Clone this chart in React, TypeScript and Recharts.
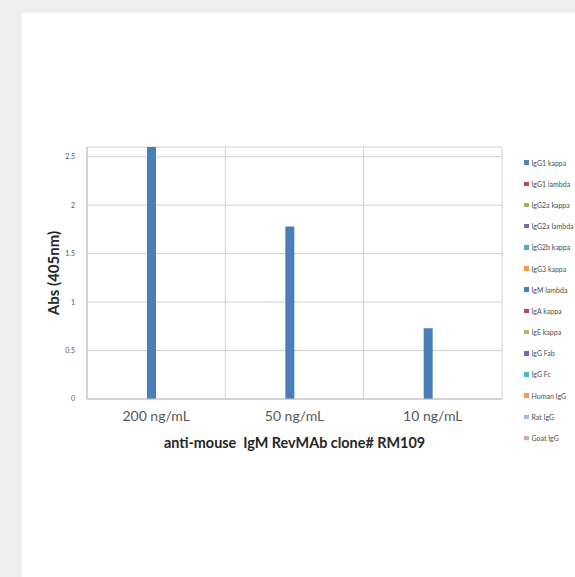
import React from "react";
import { Bar, BarChart, CartesianGrid, Label, XAxis, YAxis } from "recharts";

const categories = ["200 ng/mL", "50 ng/mL", "10 ng/mL"];

const seriesNames = [
  "IgG1 kappa",
  "IgG1 lambda",
  "IgG2a kappa",
  "IgG2a lambda",
  "IgG2b kappa",
  "IgG3 kappa",
  "IgM lambda",
  "IgA kappa",
  "IgE kappa",
  "IgG Fab",
  "IgG Fc",
  "Human IgG",
  "Rat IgG",
  "Goat IgG",
];

const seriesColors = [
  "#4f81bd",
  "#c0504d",
  "#9bbb59",
  "#8064a2",
  "#4bacc6",
  "#f79646",
  "#4a7ebb",
  "#be4b48",
  "#a5c165",
  "#7f67b0",
  "#4bb7c9",
  "#f79646",
  "#a5b9d6",
  "#dba3a2",
];

// only the IgM lambda series reads above zero
const igmLambda = [2.6, 1.78, 0.73];
const noSignal = [0, 0, 0];

const yTicks = [0, 0.5, 1, 1.5, 2, 2.5];

const data = categories.map((c, i) => {
  const row: Record<string, string | number> = { name: c };
  seriesNames.forEach((s) => {
    row[s] = s === "IgM lambda" ? igmLambda[i] : noSignal[i];
  });
  return row;
});

const font = "Lato, 'Open Sans', sans-serif";

export default function App() {
  return (
    <div
      style={{
        position: "absolute",
        left: 0,
        top: 0,
        width: 575,
        height: 577,
        background: "#eeeeee",
        overflow: "hidden",
        fontFamily: font,
      }}
    >
      <div
        style={{
          position: "absolute",
          left: 22,
          top: 13,
          width: 553,
          height: 564,
          background: "#ffffff",
        }}
      />
      <div style={{ position: "absolute", left: 0, top: 0 }}>
        <BarChart
          width={575}
          height={577}
          data={data}
          barGap={0}
          margin={{ top: 147, right: 73, bottom: 126, left: 42 }}
        >
          <CartesianGrid
            stroke="#d0d0d0"
            verticalCoordinatesGenerator={({ offset }: any) =>
              categories
                .map((_, i) => offset.left + (i * offset.width) / categories.length)
                .concat(offset.left + offset.width)
            }
          />
          <XAxis
            dataKey="name"
            height={52}
            tickLine={false}
            tickSize={0}
            tickMargin={12}
            axisLine={{ stroke: "#bfbfbf" }}
            tick={{ fill: "#595959", fontSize: 14, fontFamily: font }}
          >
            <Label
              content={({ viewBox }: any) => (
                <text
                  x={viewBox.x + viewBox.width / 2}
                  y={viewBox.y + 49}
                  textAnchor="middle"
                  fill="#262626"
                  fontSize={14.4}
                  fontWeight="bold"
                  fontFamily={font}
                  style={{ whiteSpace: "pre" }}
                >
                  {"anti-mouse  IgM RevMAb clone# RM109"}
                </text>
              )}
            />
          </XAxis>
          <YAxis
            width={45}
            domain={[0, 2.6]}
            ticks={yTicks}
            tickLine={false}
            tickSize={0}
            tickMargin={12}
            axisLine={{ stroke: "#bfbfbf" }}
            tick={{ fill: "#595959", fontSize: 7, fontFamily: font }}
          >
            <Label
              content={({ viewBox }: any) => {
                const x = 59;
                const y = viewBox.y + viewBox.height / 2;
                return (
                  <text
                    x={x}
                    y={y}
                    transform={`rotate(-90 ${x} ${y})`}
                    textAnchor="middle"
                    fill="#262626"
                    fontSize={15}
                    fontWeight="bold"
                    fontFamily={font}
                  >
                    Abs (405nm)
                  </text>
                );
              }}
            />
          </YAxis>
          {seriesNames.map((s, i) => (
            <Bar
              key={s}
              dataKey={s}
              fill={seriesColors[i]}
              barSize={9}
              isAnimationActive={false}
            />
          ))}
        </BarChart>
      </div>
      <div style={{ position: "absolute", left: 524, top: 152 }}>
        {seriesNames.map((s, i) => (
          <div
            key={s}
            style={{
              display: "flex",
              alignItems: "center",
              height: 21.2,
              fontSize: 7,
              color: "#4d4d4d",
              whiteSpace: "nowrap",
            }}
          >
            <span
              style={{
                width: 4.5,
                height: 4.5,
                background: seriesColors[i],
                marginRight: 3,
                display: "inline-block",
                flexShrink: 0,
              }}
            />
            {s}
          </div>
        ))}
      </div>
    </div>
  );
}
